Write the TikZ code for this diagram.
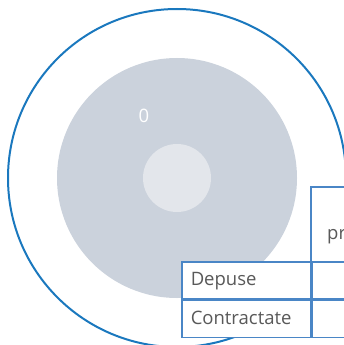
\documentclass[tikz,border=0pt]{standalone}
\usepackage{fontspec}
\setmainfont{Open Sans}
\usetikzlibrary{positioning}
\definecolor{ringblue}{HTML}{1A78BE}
\definecolor{gridblue}{HTML}{4A86C6}
\definecolor{discgray}{HTML}{CBD2DC}
\definecolor{coregray}{HTML}{E3E6EB}
\definecolor{labelgray}{HTML}{595959}

\begin{document}
\begin{tikzpicture}[
    x=1pt, y=-1pt,
    ring/.style={draw=ringblue, line width=2pt},
    celltext/.style={font=\fontsize{18.5}{22}\selectfont, text=labelgray},
    cell/.style={rectangle, draw=gridblue, line width=1.5pt, fill=white, inner sep=0pt, celltext},
    rowcell/.style={cell, minimum width=129pt, minimum height=37pt, text width=111pt, align=left, text depth=2pt},
    valcell/.style={cell, minimum width=70pt, minimum height=37pt}
]
\useasboundingbox (0,0) rectangle (344,345);
\clip (0,0) rectangle (344,345);

% Define the discs
\node[circle, ring, minimum size=338pt, inner sep=0pt] (outer) at (177,178) {};
\node[circle, fill=discgray, minimum size=240pt, inner sep=0pt] (disc) at (177,178) {};
\node[circle, fill=coregray, minimum size=68pt, inner sep=0pt] (core) at (177,178) {};
\node[font=\fontsize{18.5}{22}\selectfont, text=white] (zero) at (144,116) {0};

% Table cells
\node[cell, minimum width=70pt, minimum height=75pt, anchor=north west] (head) at (310,186) {};
\node[celltext, anchor=west, inner sep=0pt] (headtext) at ([xshift=17pt,yshift=-12pt]head.west) {pr};
\node[rowcell, anchor=north west] (depuse) at (181,261) {Depuse};
\node[rowcell, below=0pt of depuse] (contract) {Contractate};
\node[valcell, right=0pt of depuse] (depuseval) {};
\node[valcell, right=0pt of contract] (contractval) {};

\end{tikzpicture}
\end{document}
